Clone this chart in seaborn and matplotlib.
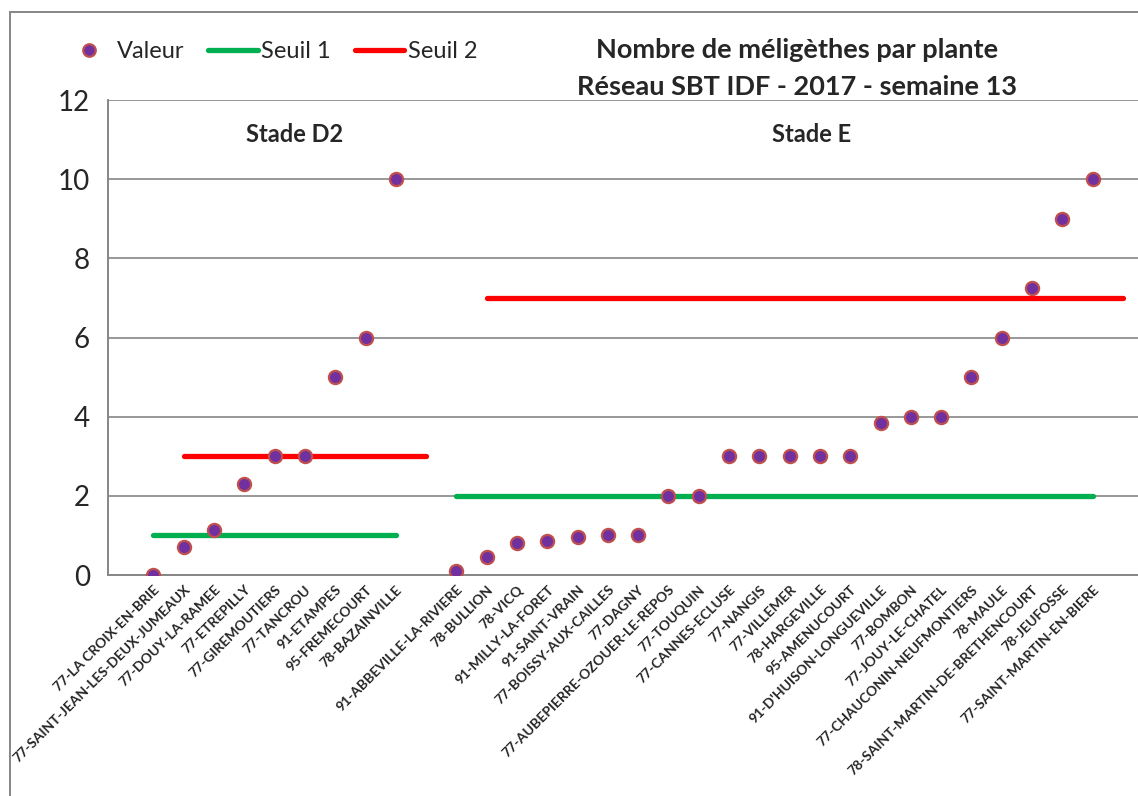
import numpy as np
import pandas as pd
import matplotlib
matplotlib.use("Agg")
import matplotlib.pyplot as plt
import seaborn as sns
from matplotlib.lines import Line2D
from matplotlib.patches import Rectangle

# categories (blank slots separate the two stages, as in the original sheet)
sites_d2 = ["77-LA CROIX-EN-BRIE", "77-SAINT-JEAN-LES-DEUX-JUMEAUX", "77-DOUY-LA-RAMEE",
            "77-ETREPILLY", "77-GIREMOUTIERS", "77-TANCROU", "91-ETAMPES",
            "95-FREMECOURT", "78-BAZAINVILLE"]
sites_e = ["91-ABBEVILLE-LA-RIVIERE", "78-BULLION", "78-VICQ", "91-MILLY-LA-FORET",
           "91-SAINT-VRAIN", "77-BOISSY-AUX-CAILLES", "77-DAGNY",
           "77-AUBEPIERRE-OZOUER-LE-REPOS", "77-TOUQUIN", "77-CANNES-ECLUSE",
           "77-NANGIS", "77-VILLEMER", "78-HARGEVILLE", "95-AMENUCOURT",
           "91-D'HUISON-LONGUEVILLE", "77-BOMBON", "77-JOUY-LE-CHATEL",
           "77-CHAUCONIN-NEUFMONTIERS", "78-MAULE", "78-SAINT-MARTIN-DE-BRETHENCOURT",
           "78-JEUFOSSE", "77-SAINT-MARTIN-EN-BIERE"]
labels = [""] + sites_d2 + [""] + sites_e + [""]

valeur_d2 = [0, 0.7, 1.13, 2.3, 3, 3, 5, 6, 10]
valeur_e = [0.1, 0.45, 0.8, 0.85, 0.95, 1, 1, 2, 2, 3, 3, 3, 3, 3,
            3.85, 4, 4, 5, 6, 7.25, 9, 10]
valeur = [np.nan] + valeur_d2 + [np.nan] + valeur_e + [np.nan]

# thresholds (Seuil 2 sits one slot to the right in the source sheet)
seuil1 = [np.nan] + [1] * 9 + [np.nan] + [2] * 22 + [np.nan]
seuil2 = [np.nan, np.nan] + [3] * 9 + [np.nan] + [7] * 22

pos = np.arange(len(labels))
df = pd.DataFrame({"pos": pos, "valeur": valeur, "seuil1": seuil1, "seuil2": seuil2})


def segments(col):
    d = df[["pos", col]].copy()
    d["seg"] = d[col].isna().cumsum()
    return d.dropna()


sns.set_style("white")
plt.rcParams["font.family"] = ["Lato", "DejaVu Sans"]

fig = plt.figure(figsize=(11.38, 7.96), dpi=100)
ax = fig.add_axes([108 / 1138, 1 - 575 / 796, 1 - 108 / 1138, (575 - 100) / 796])

grey = "#868686"
green = "#00B050"
red = "#FF0000"

for col, color in [("seuil1", green), ("seuil2", red)]:
    d = segments(col)
    sns.lineplot(data=d, x="pos", y=col, units="seg", estimator=None, color=color,
                 linewidth=3.8, solid_capstyle="round", ax=ax, zorder=3, legend=False)

sns.scatterplot(data=df.dropna(subset=["valeur"]), x="pos", y="valeur", ax=ax,
                s=90, color="#7030A0", edgecolor="#C0504D", linewidth=1.6, zorder=4,
                legend=False)

ax.set_xlim(-0.5, len(labels) - 0.5)
ax.set_ylim(0, 12)
ax.set_yticks(np.arange(0, 13, 2))
ax.set_xticks(pos)
ax.set_xticklabels(labels, rotation=45, ha="right", rotation_mode="anchor",
                   fontsize=10, fontweight="bold")
ax.set_xticks(np.arange(-0.5, len(labels), 1), minor=True)
ax.tick_params(axis="x", which="major", length=0, pad=6)
ax.tick_params(axis="x", which="minor", length=6, width=1.2, color=grey, direction="out")
ax.tick_params(axis="y", length=7, width=1.2, color=grey, direction="out",
               labelsize=20, pad=6)
ax.set_xlabel("")
ax.set_ylabel("")
ax.grid(axis="y", color=grey, linewidth=1.2)
ax.set_axisbelow(True)
for s in ["top", "right"]:
    ax.spines[s].set_visible(False)
for s in ["left", "bottom"]:
    ax.spines[s].set_color(grey)
    ax.spines[s].set_linewidth(1.4)

fig.text(295 / 1138, 1 - 135 / 796, "Stade D2", ha="center", va="center",
         fontsize=17, fontweight="bold")
fig.text(812 / 1138, 1 - 135 / 796, "Stade E", ha="center", va="center",
         fontsize=17, fontweight="bold")

fig.text(797 / 1138, 1 - 50 / 796, "Nombre de méligèthes par plante", ha="center",
         va="center", fontsize=19.5, fontweight="bold")
fig.text(797 / 1138, 1 - 87 / 796, "Réseau SBT IDF - 2017 - semaine 13", ha="center",
         va="center", fontsize=19.5, fontweight="bold")

handles = [
    Line2D([], [], linestyle="none", marker="o", markersize=9, markerfacecolor="#7030A0",
           markeredgecolor="#C0504D", markeredgewidth=1.6),
    Line2D([], [], color=green, linewidth=3.8, solid_capstyle="round"),
    Line2D([], [], color=red, linewidth=3.8, solid_capstyle="round"),
]
fig.legend(handles, ["Valeur", "Seuil 1", "Seuil 2"], loc="center left",
           bbox_to_anchor=(64 / 1138, 1 - 52 / 796), ncol=3, frameon=False,
           fontsize=17, handlelength=2.1, handletextpad=0.15, columnspacing=1.0,
           borderpad=0, borderaxespad=0)

fig.patches.append(Rectangle((10 / 1138, -0.2), 1.2, 1.2 - 12 / 796,
                             transform=fig.transFigure, fill=False,
                             edgecolor=grey, linewidth=1.4))

fig.savefig("out.png", dpi=100)
